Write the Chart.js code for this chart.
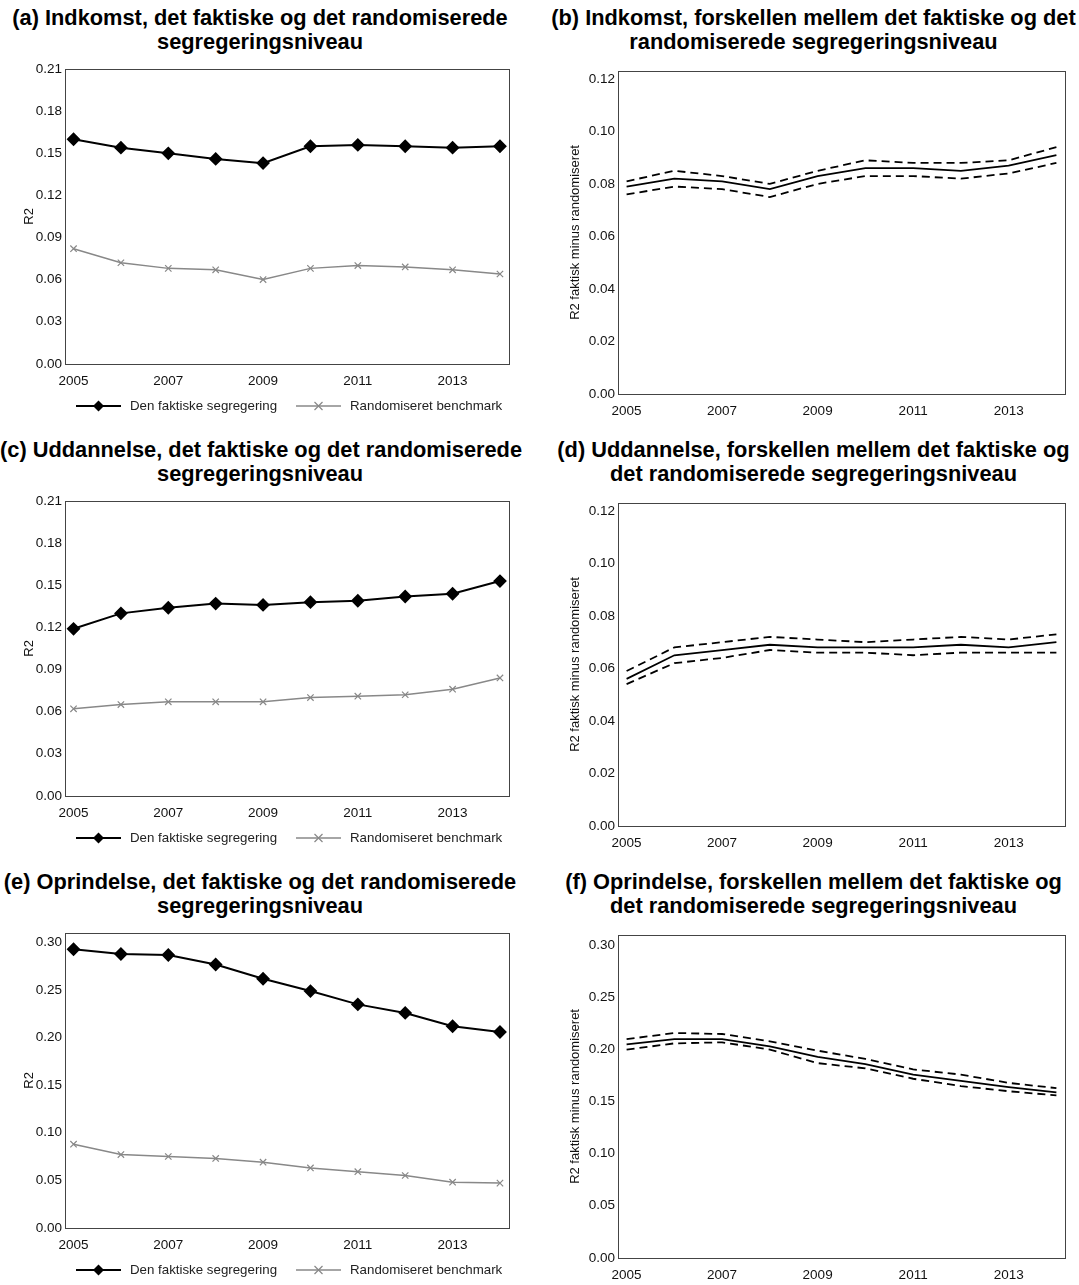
<!DOCTYPE html>
<html><head><meta charset="utf-8">
<script src="https://cdn.jsdelivr.net/npm/chart.js@4"></script>
<style>
body{margin:0;background:#fff;width:1079px;height:1285px;position:relative;font-family:"Liberation Sans",Arial,sans-serif;overflow:hidden}
.t{position:absolute;font-weight:bold;font-size:21.8px;text-align:center;line-height:24px;color:#000;white-space:nowrap}
.c{position:absolute}
</style></head><body>
<script>
const years=[2005,2006,2007,2008,2009,2010,2011,2012,2013,2014];
const xTicks=[2005,2007,2009,2011,2013];
const incActual=[0.160,0.154,0.150,0.146,0.143,0.155,0.156,0.155,0.154,0.155];
const incRandom=[0.082,0.072,0.068,0.067,0.060,0.068,0.070,0.069,0.067,0.064];
const incDiff=[0.079,0.082,0.081,0.078,0.083,0.086,0.086,0.085,0.087,0.091];
const incUpper=[0.081,0.085,0.083,0.080,0.085,0.089,0.088,0.088,0.089,0.094];
const incLower=[0.076,0.079,0.078,0.075,0.080,0.083,0.083,0.082,0.084,0.088];
const eduActual=[0.119,0.130,0.134,0.137,0.136,0.138,0.139,0.142,0.144,0.153];
const eduRandom=[0.062,0.065,0.067,0.067,0.067,0.070,0.071,0.072,0.076,0.084];
const eduDiff=[0.056,0.065,0.067,0.069,0.068,0.068,0.068,0.069,0.068,0.070];
const eduUpper=[0.059,0.068,0.070,0.072,0.071,0.070,0.071,0.072,0.071,0.073];
const eduLower=[0.054,0.062,0.064,0.067,0.066,0.066,0.065,0.066,0.066,0.066];
const oriActual=[0.293,0.288,0.287,0.277,0.262,0.249,0.235,0.226,0.212,0.206];
const oriRandom=[0.088,0.077,0.075,0.073,0.069,0.063,0.059,0.055,0.048,0.047];
const oriDiff=[0.205,0.210,0.210,0.203,0.193,0.186,0.176,0.170,0.164,0.159];
const oriUpper=[0.210,0.216,0.215,0.208,0.199,0.191,0.181,0.176,0.168,0.163];
const oriLower=[0.200,0.206,0.207,0.200,0.187,0.182,0.172,0.165,0.160,0.156];
const yTicksA=[0,0.03,0.06,0.09,0.12,0.15,0.18,0.21];
const yTicksB=[0,0.02,0.04,0.06,0.08,0.10,0.12];
const yTicksE=[0,0.05,0.10,0.15,0.20,0.25,0.30];
const legendLabels=["Den faktiske segregering","Randomiseret benchmark"];
const titles=[
"(a) Indkomst, det faktiske og det randomiserede<br>segregeringsniveau",
"(b) Indkomst, forskellen mellem det faktiske og det<br>randomiserede segregeringsniveau",
"(c) Uddannelse, det faktiske og det randomiserede<br>segregeringsniveau",
"(d) Uddannelse, forskellen mellem det faktiske og<br>det randomiserede segregeringsniveau",
"(e) Oprindelse, det faktiske og det randomiserede<br>segregeringsniveau",
"(f) Oprindelse, forskellen mellem det faktiske og<br>det randomiserede segregeringsniveau"];

const FONT="'Liberation Sans', Arial, sans-serif";
const pts=a=>a.map((v,i)=>({x:years[i],y:v}));
const boxPlugin={id:'box',afterDraw(ch){const a=ch.chartArea,c=ch.ctx;c.save();c.strokeStyle='#444';c.lineWidth=1;c.strokeRect(Math.round(a.left)+0.5,Math.round(a.top)+0.5,Math.round(a.right-a.left),Math.round(a.bottom-a.top));c.restore();}};
const legPlugin={id:'leg',afterDraw(ch){if(!ch.options.plugins.myLeg)return;const c=ch.ctx,y=ch.height-12;c.save();c.font='13.3px '+FONT;c.textBaseline='middle';
 const items=[{x:76,col:'#000',st:'d',w:2},{x:296,col:'#888',st:'x',w:1.5}];
 items.forEach((it,i)=>{c.strokeStyle=it.col;c.lineWidth=it.w;c.beginPath();c.moveTo(it.x,y);c.lineTo(it.x+45,y);c.stroke();const mx=it.x+22.5;
  if(it.st==='d'){c.fillStyle=it.col;c.beginPath();c.moveTo(mx,y-5.5);c.lineTo(mx+5.5,y);c.lineTo(mx,y+5.5);c.lineTo(mx-5.5,y);c.closePath();c.fill();}
  else{c.lineWidth=1.2;c.beginPath();c.moveTo(mx-4,y-4);c.lineTo(mx+4,y+4);c.moveTo(mx+4,y-4);c.lineTo(mx-4,y+4);c.stroke();}
  c.fillStyle='#222';c.fillText(legendLabels[i],it.x+54,y);});c.restore();}};

function make(left,top,w,h,datasets,yMax,yTicks,yTitle,legend,yW,padL){
 const cv=document.createElement('canvas');cv.className='c';cv.style.left=left+'px';cv.style.top=top+'px';cv.width=w;cv.height=h;cv.style.width=w+'px';cv.style.height=h+'px';document.body.appendChild(cv);
 new Chart(cv,{type:'line',data:{datasets},plugins:[boxPlugin,legPlugin],
 options:{responsive:false,animation:false,devicePixelRatio:1,layout:{padding:{top:10,right:4,bottom:legend?28:0,left:padL}},
 plugins:{legend:{display:false},tooltip:{enabled:false},myLeg:legend},
 scales:{x:{type:'linear',min:2004.82,max:2014.18,grid:{display:false},border:{display:false},
   afterBuildTicks(s){s.ticks=xTicks.map(v=>({value:v}));},
   ticks:{color:'#111',font:{size:13.5,family:FONT},maxRotation:0,padding:1,callback:v=>String(v)}},
  y:{min:0,max:yMax,grid:{display:false,drawTicks:false},border:{display:false},afterFit(s){s.width=yW;},
   afterBuildTicks(s){s.ticks=yTicks.map(v=>({value:v}));},
   title:{display:true,text:yTitle,color:'#111',font:{size:13,family:FONT},padding:{top:0,bottom:2}},
   ticks:{color:'#111',font:{size:13.5,family:FONT},padding:3,callback:v=>v.toFixed(2)}}}}});
}
function lr(actual,random){return[
 {data:pts(actual),borderColor:'#000',backgroundColor:'#000',borderWidth:2,pointStyle:'rectRot',pointRadius:5.5,tension:0},
 {data:pts(random),borderColor:'#888',backgroundColor:'#888',borderWidth:1.5,pointStyle:'crossRot',pointRadius:4.5,pointBorderWidth:1.2,tension:0}];}
function rr(d,u,l){return[
 {data:pts(d),borderColor:'#000',borderWidth:1.8,pointRadius:0,tension:0},
 {data:pts(u),borderColor:'#000',borderWidth:1.8,borderDash:[8,5],pointRadius:0,tension:0},
 {data:pts(l),borderColor:'#000',borderWidth:1.8,borderDash:[8,5],pointRadius:0,tension:0}];}

const L=[["a",lr(incActual,incRandom),0.21,yTicksA],["c",lr(eduActual,eduRandom),0.21,yTicksA],["e",lr(oriActual,oriRandom),0.31,yTicksE]];
const R=[["b",rr(incDiff,incUpper,incLower),0.123,yTicksB],["d",rr(eduDiff,eduUpper,eduLower),0.123,yTicksB],["f",rr(oriDiff,oriUpper,oriLower),0.31,yTicksE]];
for(let r=0;r<3;r++){
 const off=r*432;
 const t1=document.createElement('div');t1.className='t';t1.style.left='0px';t1.style.width='520px';t1.style.top=(6+off)+'px';t1.innerHTML=titles[r*2];document.body.appendChild(t1);
 const t2=document.createElement('div');t2.className='t';t2.style.left='548px';t2.style.width='531px';t2.style.top=(6+off)+'px';t2.innerHTML=titles[r*2+1];document.body.appendChild(t2);
 make(0,off+58,516,360,L[r][1],L[r][2],L[r][3],'R2',true,43,22);
 make(545,off+60,524,360,R[r][1],R[r][2],R[r][3],'R2 faktisk minus randomiseret',false,50,23);
}
</script>
</body></html>
